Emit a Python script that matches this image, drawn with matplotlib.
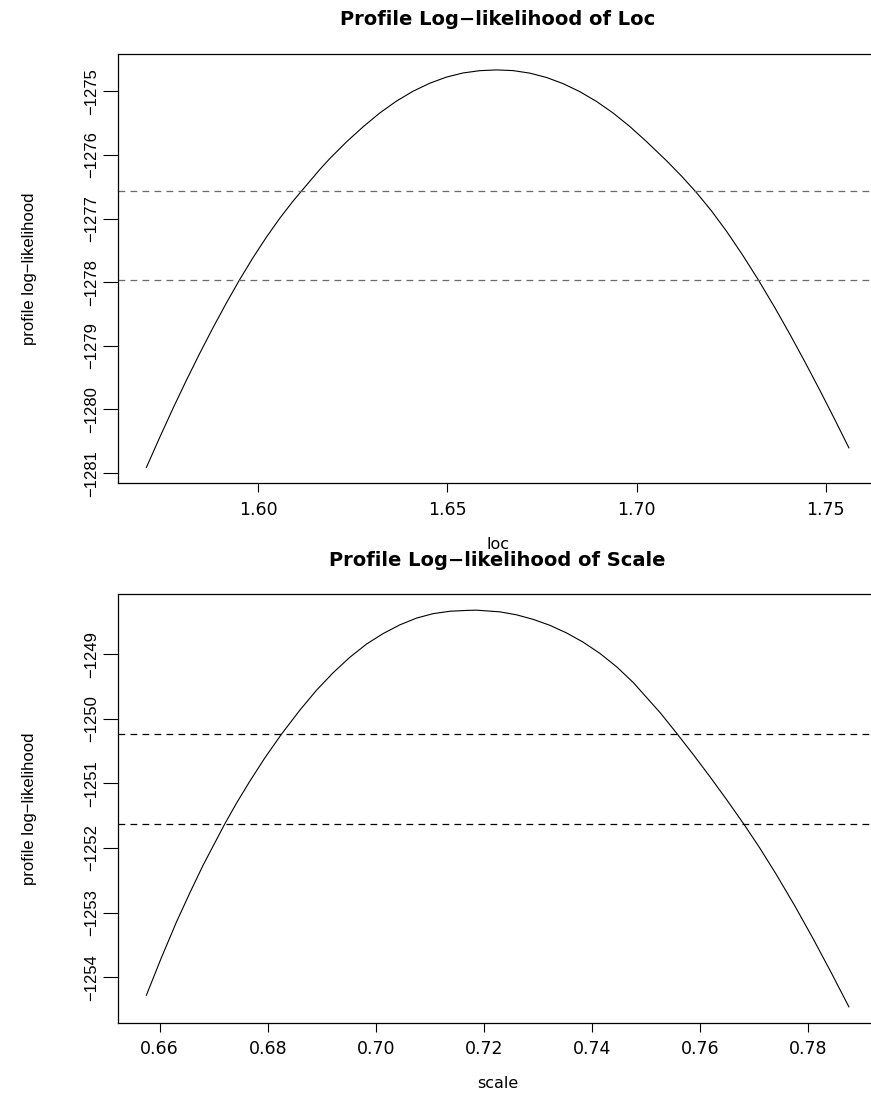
import matplotlib
matplotlib.use("Agg")
import matplotlib.pyplot as plt
from matplotlib.ticker import FormatStrFormatter

# profile log-likelihood of loc
loc_x = [1.57051, 1.57402, 1.57754, 1.58108, 1.58459, 1.58811, 1.59165, 1.59516, 1.59868, 1.60222,
         1.60573, 1.60925, 1.61147, 1.61631, 1.61895, 1.62336, 1.62775, 1.63216, 1.63658, 1.64096,
         1.64538, 1.64979, 1.65418, 1.65859, 1.66300, 1.66739, 1.67180, 1.67622, 1.68060, 1.68502,
         1.68943, 1.69382, 1.69823, 1.70264, 1.70793, 1.71200, 1.71590, 1.71980, 1.72380, 1.72800,
         1.73210, 1.73650, 1.74050, 1.74450, 1.74840, 1.75230, 1.75610]
loc_ll = [-1280.910, -1280.440, -1279.982, -1279.540, -1279.119, -1278.714, -1278.325, -1277.958, -1277.613, -1277.291,
          -1276.996, -1276.725, -1276.568, -1276.229, -1276.057, -1275.795, -1275.558, -1275.340, -1275.153, -1274.998,
          -1274.872, -1274.776, -1274.711, -1274.675, -1274.663, -1274.674, -1274.714, -1274.782, -1274.879, -1275.005,
          -1275.159, -1275.341, -1275.553, -1275.790, -1276.091, -1276.339, -1276.596, -1276.879, -1277.201, -1277.571,
          -1277.956, -1278.396, -1278.816, -1279.254, -1279.695, -1280.149, -1280.603]
loc_cuts = [-1276.57, -1277.96]
loc_xticks = [1.60, 1.65, 1.70, 1.75]
loc_yticks = [-1281, -1280, -1279, -1278, -1277, -1276, -1275]

# profile log-likelihood of scale
scale_x = [0.65754, 0.66031, 0.66309, 0.66556, 0.66802, 0.67204, 0.67420, 0.67667, 0.67944, 0.68254,
           0.68593, 0.68902, 0.69209, 0.69519, 0.69828, 0.70135, 0.70444, 0.70754, 0.71061, 0.71370,
           0.71680, 0.71865, 0.72296, 0.72606, 0.72913, 0.73222, 0.73531, 0.73839, 0.74148, 0.74457,
           0.74765, 0.75270, 0.75580, 0.75889, 0.76185, 0.76494, 0.76821, 0.77111, 0.77420, 0.77759,
           0.78099, 0.78438, 0.78759]
scale_ll = [-1254.280, -1253.700, -1253.150, -1252.700, -1252.270, -1251.630, -1251.310, -1250.970, -1250.610, -1250.240,
            -1249.870, -1249.560, -1249.290, -1249.050, -1248.845, -1248.683, -1248.548, -1248.443, -1248.374, -1248.337,
            -1248.324, -1248.320, -1248.346, -1248.392, -1248.462, -1248.554, -1248.672, -1248.815, -1248.988, -1249.195,
            -1249.438, -1249.912, -1250.235, -1250.567, -1250.896, -1251.251, -1251.640, -1252.004, -1252.418, -1252.899,
            -1253.409, -1253.941, -1254.460]
scale_cuts = [-1250.24, -1251.63]
scale_xticks = [0.66, 0.68, 0.70, 0.72, 0.74, 0.76, 0.78]
scale_yticks = [-1254, -1253, -1252, -1251, -1250, -1249]

W, H = 871, 1095
HORIZ_FONT = ['DejaVu Sans']
VERT_FONT = ['Liberation Sans', 'DejaVu Sans']


def profile_panel(ax, x, ll, cuts, xticks, yticks, title, xlabel, title_y, xlabel_y, cut_color):
    ax.plot(x, ll, color='black', lw=0.8)
    for c in cuts:
        ax.axhline(c, color=cut_color, lw=0.9, dashes=(5.4, 4.2))
    ax.margins(x=0.04, y=0.04)

    ax.set_xticks(xticks)
    ax.set_yticks(yticks)
    ax.xaxis.set_major_formatter(FormatStrFormatter('%.2f'))
    ax.ticklabel_format(axis='y', useOffset=False)
    ax.tick_params(axis='x', direction='out', length=6.5, width=0.8, pad=6)
    ax.tick_params(axis='y', direction='out', length=10.8, width=0.8, pad=3)
    for lab in ax.get_xticklabels():
        lab.set_family(HORIZ_FONT)
        lab.set_fontsize(12.5)
    for lab in ax.get_yticklabels():
        lab.set_family(VERT_FONT)
        lab.set_fontsize(12)
        lab.set_rotation(90)
        lab.set_va('center')

    for sp in ax.spines.values():
        sp.set_linewidth(0.9)

    ax.set_title(title, family=HORIZ_FONT, fontsize=14, fontweight='bold',
                 y=title_y, va='center', pad=0)
    ax.set_xlabel(xlabel, family=HORIZ_FONT, fontsize=11.5, va='center')
    ax.xaxis.set_label_coords(0.5, xlabel_y)
    ax.set_ylabel('profile log\u2212likelihood', family=VERT_FONT, fontsize=12, va='center')
    ax.yaxis.set_label_coords(-0.117, 0.5)


fig = plt.figure(figsize=(W / 100, H / 100), dpi=100)
left = 118.3 / W
width = (877 - 118.3) / W
ax1 = fig.add_axes([left, 1 - 483.3 / H, width, (483.3 - 54) / H])
ax2 = fig.add_axes([left, 1 - 1022.7 / H, width, (1022.7 - 594.3) / H])

profile_panel(ax1, loc_x, loc_ll, loc_cuts, loc_xticks, loc_yticks,
              'Profile Log\u2212likelihood of Loc', 'loc', 1.0792, -0.142, '#6a6a6a')
profile_panel(ax2, scale_x, scale_ll, scale_cuts, scale_xticks, scale_yticks,
              'Profile Log\u2212likelihood of Scale', 'scale', 1.078, -0.143, 'black')

fig.savefig('out.png', dpi=100, facecolor='white')
